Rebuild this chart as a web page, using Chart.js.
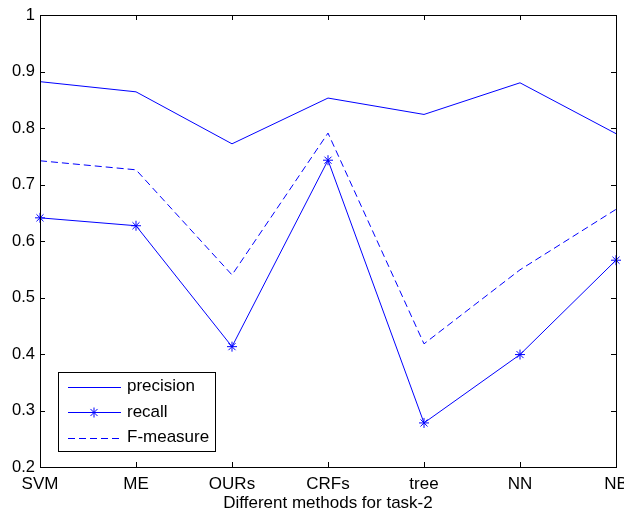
<!DOCTYPE html>
<html>
<head>
<meta charset="utf-8">
<script src="https://cdn.jsdelivr.net/npm/chart.js@4/dist/chart.umd.min.js"></script>
<style>
  html, body { margin: 0; padding: 0; background: #fff; }
  #wrap { width: 624px; height: 514px; }
</style>
</head>
<body>
<div id="wrap"><canvas id="c" width="624" height="514"></canvas></div>
<script>
const methods = ["SVM", "ME", "OURs", "CRFs", "tree", "NN", "NB"];
const precision = [0.882, 0.864, 0.772, 0.853, 0.824, 0.880, 0.790];
const recall = [0.641, 0.627, 0.413, 0.743, 0.278, 0.399, 0.566];
const fMeasure = [0.742, 0.726, 0.540, 0.791, 0.418, 0.549, 0.656];
const yTicks = [0.2, 0.3, 0.4, 0.5, 0.6, 0.7, 0.8, 0.9, 1];

const BLUE = "#0000ff";
const FONT = "'Liberation Sans', Arial, sans-serif";

// box + inward tick marks, matlab style
const boxPlugin = {
    id: "box",
    afterDraw(chart) {
        const { ctx, chartArea: a, scales } = chart;
        ctx.save();
        ctx.strokeStyle = "#000";
        ctx.lineWidth = 1;
        ctx.strokeRect(a.left + 0.5, a.top + 0.5, a.right - a.left, a.bottom - a.top);
        ctx.beginPath();
        yTicks.forEach(v => {
            const y = Math.round(scales.y.getPixelForValue(v)) + 0.5;
            ctx.moveTo(a.left, y); ctx.lineTo(a.left + 5, y);
            ctx.moveTo(a.right - 5, y); ctx.lineTo(a.right, y);
        });
        methods.forEach((m, i) => {
            const x = Math.round(scales.x.getPixelForValue(i)) + 0.5;
            ctx.moveTo(x, a.bottom); ctx.lineTo(x, a.bottom - 5);
            ctx.moveTo(x, a.top); ctx.lineTo(x, a.top + 5);
        });
        ctx.stroke();
        ctx.restore();
    }
};

// legend box in the lower left corner
const legendPlugin = {
    id: "boxLegend",
    afterDraw(chart) {
        const { ctx, chartArea: a } = chart;
        const x0 = a.left + 18, y0 = a.bottom - 95;
        ctx.save();
        ctx.fillStyle = "#fff";
        ctx.fillRect(x0, y0, 157, 79);
        ctx.strokeStyle = "#000";
        ctx.lineWidth = 1;
        ctx.strokeRect(x0 + 0.5, y0 + 0.5, 157, 79);
        const rows = chart.data.datasets;
        rows.forEach((ds, i) => {
            const y = y0 + 14.5 + i * 25.5;
            ctx.strokeStyle = BLUE;
            ctx.setLineDash(ds.borderDash || []);
            ctx.beginPath();
            ctx.moveTo(x0 + 10, Math.round(y) + 0.5);
            ctx.lineTo(x0 + 63, Math.round(y) + 0.5);
            ctx.stroke();
            ctx.setLineDash([]);
            if (ds.pointRadius > 0) {
                Chart.helpers.drawPoint(ctx, { pointStyle: "star", radius: 5, borderWidth: 1 }, x0 + 36, Math.round(y) + 0.5);
            }
            ctx.fillStyle = "#000";
            ctx.font = "17px " + FONT;
            ctx.textBaseline = "middle";
            ctx.fillText(ds.label, x0 + 69, y);
        });
        ctx.restore();
    }
};

new Chart(document.getElementById("c"), {
    type: "line",
    data: {
        labels: methods,
        datasets: [
            { label: "precision", data: precision, borderColor: BLUE, borderWidth: 1, pointRadius: 0, tension: 0 },
            { label: "recall", data: recall, borderColor: BLUE, borderWidth: 1, pointRadius: 5, pointStyle: "star",
              pointBorderColor: BLUE, pointBorderWidth: 1, tension: 0 },
            { label: "F-measure", data: fMeasure, borderColor: BLUE, borderWidth: 1, borderDash: [7, 4], pointRadius: 0, tension: 0 }
        ]
    },
    options: {
        responsive: false,
        animation: false,
        layout: { padding: { top: 15, right: 8, left: 0, bottom: 0 } },
        plugins: { legend: { display: false }, tooltip: { enabled: false } },
        scales: {
            x: {
                offset: false,
                grid: { display: false, drawTicks: false },
                border: { display: false },
                ticks: { color: "#000", font: { family: FONT, size: 17 }, padding: 7, maxRotation: 0, autoSkip: false },
                title: { display: true, text: "Different methods for task-2", color: "#000",
                         font: { family: FONT, size: 17 }, padding: { top: 0, bottom: 0 } },
                afterFit(s) { s.height = 47; s.paddingLeft = 0; s.paddingRight = 0; }
            },
            y: {
                min: 0.2, max: 1,
                grid: { display: false, drawTicks: false },
                border: { display: false },
                afterBuildTicks(s) { s.ticks = yTicks.map(v => ({ value: v })); },
                ticks: { color: "#000", font: { family: FONT, size: 16.5 }, padding: 5,
                         callback: v => String(Math.round(v * 10) / 10) },
                afterFit(s) { s.width = 40; s.paddingTop = 0; s.paddingBottom = 0; }
            }
        }
    },
    plugins: [boxPlugin, legendPlugin]
});
</script>
</body>
</html>
